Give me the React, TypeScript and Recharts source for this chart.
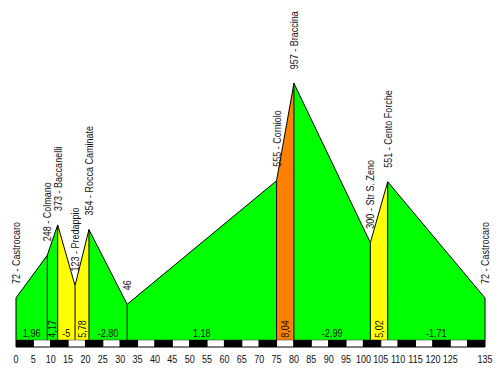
import {
  Area,
  ComposedChart,
  ReferenceArea,
  ReferenceLine,
  Scatter,
  XAxis,
  YAxis,
} from 'recharts'

// profile vertices: km, altitude (m) and place name
const distances = [0, 9, 12, 17, 21, 32, 75, 80, 102, 107, 135]
const elevations = [72, 248, 373, 123, 354, 46, 555, 957, 300, 551, 72]
const places = [
  'Castrocaro',
  'Colmano',
  'Baccanelli',
  'Predappio',
  'Rocca Caminate',
  '',
  'Corniolo',
  'Braccina',
  'Str S. Zeno',
  'Cento Forche',
  'Castrocaro',
]
// average gradient (%) of each stretch between two vertices
const gradients = [1.96, 4.17, -5, 5.78, -2.8, 1.18, 8.04, -2.99, 5.02, -1.71]

const xTicks = [0, 5, 10, 15, 20, 25, 30, 35, 40, 45, 50, 55, 60, 65, 70, 75, 80, 85, 90, 95, 100, 105, 110, 115, 120, 125, 135]
const kmMarks = [0, 5, 10, 15, 20, 25, 30, 35, 40, 45, 50, 55, 60, 65, 70, 75, 80, 85, 90, 95, 100, 105, 110, 115, 120, 125, 130, 135]

const BASE = -100
const FLOOR = -130
const FONT = "'Liberation Sans', Arial, sans-serif"
const NARROW = 0.82 // the original uses a condensed face

const gradeColor = (g: number) => {
  const a = Math.abs(g)
  if (a >= 8) return '#FF8000'
  if (a >= 5) return '#FFFF00'
  return '#00FF00'
}

const fmt = (g: number) => (Number.isInteger(g) ? String(g) : g.toFixed(2).replace('.', ','))

// one row per vertex, each stretch gets its own key so it can be filled on its own
const chartData = distances.map((km, i) => {
  const row: Record<string, any> = {
    km,
    elev: elevations[i],
    label: places[i] ? `${elevations[i]} - ${places[i]}` : `${elevations[i]}`,
  }
  gradients.forEach((_, j) => {
    row[`s${j}`] = i === j || i === j + 1 ? elevations[i] : null
  })
  return row
})

const gradeLabels = gradients.map((g, j) => {
  const text = fmt(g)
  const width = (distances[j + 1] - distances[j]) * 3.47
  return {
    km: (distances[j] + distances[j + 1]) / 2,
    elev: BASE,
    text,
    rotated: text.length * 5 + 4 > width,
  }
})

// condensed text, optionally turned to read bottom-up
const Txt = ({ x, y, rotate, anchor = 'start', dy, children }: any) => (
  <text
    transform={`translate(${x} ${y})${rotate ? ' rotate(-90)' : ''} scale(${NARROW} 1)`}
    textAnchor={anchor}
    dy={dy}
    fontSize={11}
    fontFamily={FONT}
    fill="#111"
  >
    {children}
  </text>
)

const PlaceLabel = (props: any) => {
  const { cx, cy, payload } = props
  return (
    <Txt x={cx + 4} y={cy - 14} rotate>
      {payload.label}
    </Txt>
  )
}

const GradeLabel = (props: any) => {
  const { cx, cy, payload } = props
  if (payload.rotated) {
    return (
      <Txt x={cx + 4} y={cy - 2} rotate>
        {payload.text}
      </Txt>
    )
  }
  return (
    <Txt x={cx} y={cy - 3} anchor="middle">
      {payload.text}
    </Txt>
  )
}

const KmTick = (props: any) => {
  const { x, y, payload } = props
  return (
    <Txt x={x} y={y} anchor="middle" dy="0.71em">
      {payload.value}
    </Txt>
  )
}

export default function App() {
  return (
    <div style={{ position: 'absolute', left: 0, top: 0, width: 500, height: 368, background: '#fff' }}>
      <ComposedChart width={500} height={368} data={chartData} margin={{ top: 0, right: 15, left: 16, bottom: 7 }}>
        <XAxis
          dataKey="km"
          type="number"
          domain={[0, 135]}
          ticks={xTicks}
          interval={0}
          axisLine={false}
          tickLine={false}
          height={14}
          tick={<KmTick />}
        />
        <YAxis hide type="number" domain={[FLOOR, 1300]} allowDataOverflow />

        {kmMarks.slice(0, -1).map((k, i) => (
          <ReferenceArea
            key={`km${k}`}
            x1={k}
            x2={kmMarks[i + 1]}
            y1={FLOOR}
            y2={BASE}
            fill={i % 2 === 0 ? '#000' : '#fff'}
            fillOpacity={1}
            stroke="#000"
            strokeWidth={1}
          />
        ))}

        {gradients.map((g, j) => (
          <Area
            key={`s${j}`}
            dataKey={`s${j}`}
            type="linear"
            baseValue={BASE}
            fill={gradeColor(g)}
            fillOpacity={1}
            stroke="#000"
            strokeWidth={1}
            dot={false}
            activeDot={false}
            isAnimationActive={false}
          />
        ))}

        {distances.map((d, i) => (
          <ReferenceLine
            key={`v${i}`}
            segment={[
              { x: d, y: BASE },
              { x: d, y: elevations[i] },
            ]}
            stroke="#000"
            strokeWidth={1}
          />
        ))}

        <Scatter dataKey="elev" shape={PlaceLabel} isAnimationActive={false} />
        <Scatter data={gradeLabels} dataKey="elev" shape={GradeLabel} isAnimationActive={false} />
      </ComposedChart>
    </div>
  )
}
